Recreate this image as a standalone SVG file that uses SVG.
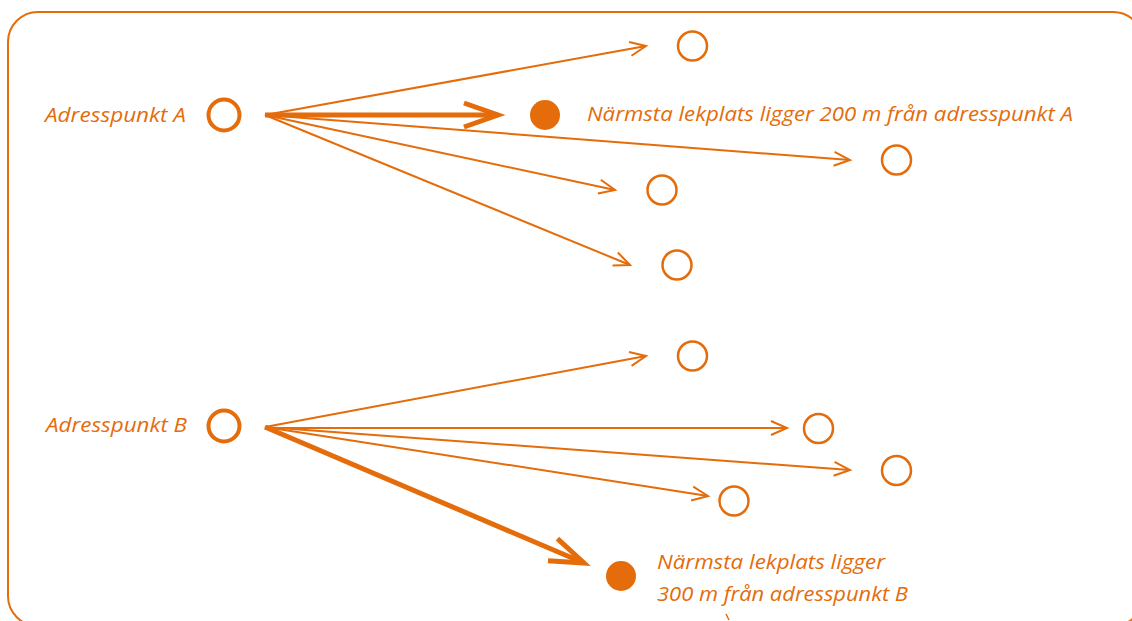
<svg xmlns="http://www.w3.org/2000/svg" width="1132" height="621" viewBox="0 0 1132 621">
<style>
.frame{fill:none;stroke:#E46C0A;stroke-width:2}
.thin{fill:none;stroke:#E46C0A;stroke-width:2}
.thick{fill:none;stroke:#E46C0A;stroke-width:5}
.addr{fill:#fff;stroke:#E46C0A;stroke-width:4}
.dest{fill:#fff;stroke:#E46C0A;stroke-width:2.5}
.near{fill:#E46C0A}
text{font-family:"Open Sans","Noto Sans","Liberation Sans",sans-serif;font-style:italic;font-size:20.5px;fill:#E46C0A}
</style>
<defs>
<marker id="hThin" markerUnits="userSpaceOnUse" markerWidth="20" markerHeight="16" refX="16" refY="7" orient="auto" overflow="visible">
<path d="M0,0 L16,7 L0,14" fill="none" stroke="#E46C0A" stroke-width="2"/>
</marker>
<marker id="hThick" markerUnits="userSpaceOnUse" markerWidth="36" markerHeight="26" refX="34" refY="12" orient="auto" overflow="visible">
<path d="M0,0 L34,12 L0,24" fill="none" stroke="#E46C0A" stroke-width="5"/>
</marker>
</defs>
<rect class="frame" x="8" y="12" width="1135" height="614" rx="30" ry="30"/>
<g id="connectors">
<line class="thin" x1="265" y1="115" x2="646" y2="46" marker-end="url(#hThin)"/>
<line class="thick" x1="265" y1="115" x2="498" y2="115" marker-end="url(#hThick)"/>
<line class="thin" x1="265" y1="115" x2="850" y2="160" marker-end="url(#hThin)"/>
<line class="thin" x1="265" y1="115" x2="615" y2="190" marker-end="url(#hThin)"/>
<line class="thin" x1="265" y1="115" x2="630" y2="265" marker-end="url(#hThin)"/>
<line class="thin" x1="265" y1="427" x2="646" y2="356" marker-end="url(#hThin)"/>
<line class="thin" x1="265" y1="428" x2="787" y2="428" marker-end="url(#hThin)"/>
<line class="thin" x1="265" y1="427" x2="850" y2="470" marker-end="url(#hThin)"/>
<line class="thin" x1="265" y1="427" x2="708" y2="496" marker-end="url(#hThin)"/>
<line class="thick" x1="265" y1="427" x2="584" y2="563" marker-end="url(#hThick)"/>
</g>
<g id="addrA">
<circle class="addr" cx="224" cy="115" r="15.5"/>
<text x="45" y="122" textLength="141" lengthAdjust="spacingAndGlyphs">Adresspunkt A</text>
</g>
<g id="addrB">
<circle class="addr" cx="224" cy="426" r="15.5"/>
<text x="46" y="432" textLength="141" lengthAdjust="spacingAndGlyphs">Adresspunkt B</text>
</g>
<g id="nearA">
<circle class="near" cx="545" cy="115" r="15"/>
<text x="587" y="121" textLength="486" lengthAdjust="spacingAndGlyphs">Närmsta lekplats ligger 200 m från adresspunkt A</text>
</g>
<g id="nearB">
<circle class="near" cx="621" cy="576" r="15"/>
<text x="657" y="569" textLength="228" lengthAdjust="spacingAndGlyphs">Närmsta lekplats ligger</text>
<text x="657" y="601" textLength="251" lengthAdjust="spacingAndGlyphs">300 m från adresspunkt B</text>
</g>
<g id="a1"><circle class="dest" cx="692.5" cy="46" r="14.5"/></g>
<g id="a2"><circle class="dest" cx="896.5" cy="160" r="14.5"/></g>
<g id="a3"><circle class="dest" cx="662" cy="190" r="14.5"/></g>
<g id="a4"><circle class="dest" cx="677" cy="265" r="14.5"/></g>
<g id="b1"><circle class="dest" cx="692.5" cy="356" r="14.5"/></g>
<g id="b2"><circle class="dest" cx="818.5" cy="428.5" r="14.5"/></g>
<g id="b3"><circle class="dest" cx="896.5" cy="470.5" r="14.5"/></g>
<g id="b4"><circle class="dest" cx="734" cy="501" r="14.5"/></g>
<line x1="726" y1="614" x2="729" y2="620" stroke="#E46C0A" stroke-width="1.5"/>
</svg>
